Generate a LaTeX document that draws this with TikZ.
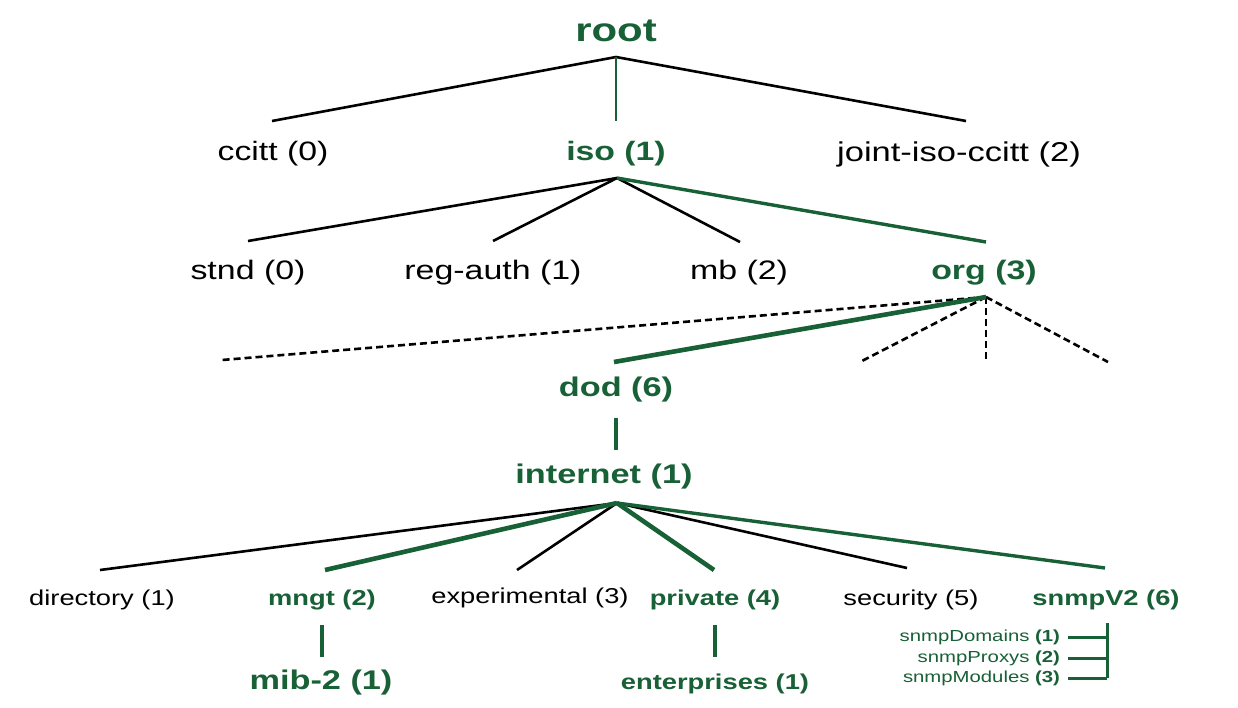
\documentclass[tikz,border=0pt]{standalone}
\usepackage{fontspec}
\setmainfont{Liberation Sans}
\usepackage{graphicx}
\definecolor{mibgreen}{RGB}{24,96,54}
\newcommand{\stx}[2]{\scalebox{1.27}[1]{\fontsize{#1}{#1}\selectfont #2}}
\tikzset{
  txt/.style={inner sep=0pt, outer sep=0pt, text=black},
  gtxt/.style={inner sep=0pt, outer sep=0pt, text=mibgreen, font=\bfseries},
  sub/.style={inner sep=0pt, outer sep=0pt, text=mibgreen, anchor=east},
  blk/.style={line width=2.6pt, draw=black},
  gthin/.style={line width=2.4pt, draw=mibgreen},
  gmid/.style={line width=3.4pt, draw=mibgreen},
  gthick/.style={line width=4.6pt, draw=mibgreen},
  dsh/.style={line width=2.6pt, draw=black, dash pattern=on 7pt off 4pt},
  gbr/.style={line width=3pt, draw=mibgreen}
}
\begin{document}
\begin{tikzpicture}[x=1pt,y=-1pt]
\path[use as bounding box] (0,0) rectangle (1238,707);
\fill[white] (0,0) rectangle (1238,707);

% ---- texts ----
\node[gtxt] (root) at (616,31) {\stx{33}{root}};
\node[txt] (ccitt) at (273,154) {\stx{26.6}{ccitt (0)}};
\node[gtxt] (iso) at (616,154) {\stx{26.6}{iso (1)}};
\node[txt] (joint) at (959,154) {\stx{27.2}{joint-iso-ccitt (2)}};

\node[txt] (stnd) at (248,273) {\stx{26.7}{stnd (0)}};
\node[txt] (regauth) at (493,273) {\stx{26.7}{reg-auth (1)}};
\node[txt] (mb) at (739,273) {\stx{26.7}{mb (2)}};
\node[gtxt] (org) at (984,273) {\stx{26.7}{org (3)}};

\node[gtxt] (dod) at (616,390) {\stx{27}{dod (6)}};
\node[gtxt] (internet) at (604,477) {\stx{27}{internet (1)}};

\node[txt] (directory) at (102,600) {\stx{21.5}{directory (1)}};
\node[gtxt] (mngt) at (322,600) {\stx{21.5}{mngt (2)}};
\node[txt] (experimental) at (530,598) {\stx{21.5}{experimental (3)}};
\node[gtxt] (private) at (715,600) {\stx{21.5}{private (4)}};
\node[txt] (security) at (911,600) {\stx{21.5}{security (5)}};
\node[gtxt] (snmpv2) at (1106,600) {\stx{21.5}{snmpV2 (6)}};

\node[gtxt] (mib) at (321,683) {\stx{27}{mib-2 (1)}};
\node[gtxt] (enterprises) at (715,684) {\stx{21.5}{enterprises (1)}};

\node[sub] (snmpD) at (1060,637) {\stx{16}{snmpDomains \textbf{(1)}}};
\node[sub] (snmpP) at (1060,658) {\stx{16}{snmpProxys \textbf{(2)}}};
\node[sub] (snmpM) at (1060,678) {\stx{16}{snmpModules \textbf{(3)}}};

% ---- junction / end coordinates ----
\coordinate (rootJ) at (616,57);
\coordinate (ccittT) at (272,121);
\coordinate (isoT) at (616,121);
\coordinate (jointT) at (966,121);

\coordinate (isoJ) at (617,178);
\coordinate (stndT) at (248,241);
\coordinate (regauthT) at (493,241);
\coordinate (mbT) at (740,242);
\coordinate (orgT) at (986,242);

\coordinate (orgJ) at (986,297);
\coordinate (dA) at (222,360);
\coordinate (dodT) at (614,362);
\coordinate (dB) at (860,362);
\coordinate (dC) at (986,362);
\coordinate (dD) at (1108,362);

\coordinate (dodB) at (616,418);
\coordinate (internetT) at (616,450);

\coordinate (internetJ) at (617,503);
\coordinate (directoryT) at (100,570);
\coordinate (mngtT) at (325,570);
\coordinate (experimentalT) at (517,570);
\coordinate (privateT) at (714,570);
\coordinate (securityT) at (907,568);
\coordinate (snmpv2T) at (1105,568);

\coordinate (mngtB) at (322,625);
\coordinate (mibT) at (322,657);
\coordinate (privateB) at (715,625);
\coordinate (enterprisesT) at (715,657);

\coordinate (brTop) at (1107,623);
\coordinate (brA) at (1107,637);
\coordinate (brB) at (1107,658);
\coordinate (brC) at (1107,678);

% ---- connectors ----
\draw[blk] (rootJ) -- (ccittT);
\draw[blk] (rootJ) -- (jointT);
\draw[gthin] (rootJ) -- (isoT);

\draw[blk] (isoJ) -- (stndT);
\draw[blk] (isoJ) -- (regauthT);
\draw[blk] (isoJ) -- (mbT);
\draw[gmid] (isoJ) -- (orgT);

\draw[dsh] (orgJ) -- (dA);
\draw[dsh] (orgJ) -- (dB);
\draw[dsh] (orgJ) -- (dC);
\draw[dsh] (orgJ) -- (dD);
\draw[gthick] (orgJ) -- (dodT);

\draw[gmid] (dodB) -- (internetT);

\draw[blk] (internetJ) -- (directoryT);
\draw[blk] (internetJ) -- (experimentalT);
\draw[blk] (internetJ) -- (securityT);
\draw[gthick] (internetJ) -- (mngtT);
\draw[gthick] (internetJ) -- (privateT);
\draw[gmid] (internetJ) -- (snmpv2T);

\draw[gthick] (mngtB) -- (mibT);
\draw[gthick] (privateB) -- (enterprisesT);

\draw[gbr] (brTop) -- (brC);
\draw[gbr] ([xshift=8pt]snmpD.east) -- (brA);
\draw[gbr] ([xshift=8pt]snmpP.east) -- (brB);
\draw[gbr] ([xshift=8pt]snmpM.east) -- (brC);
\end{tikzpicture}
\end{document}
